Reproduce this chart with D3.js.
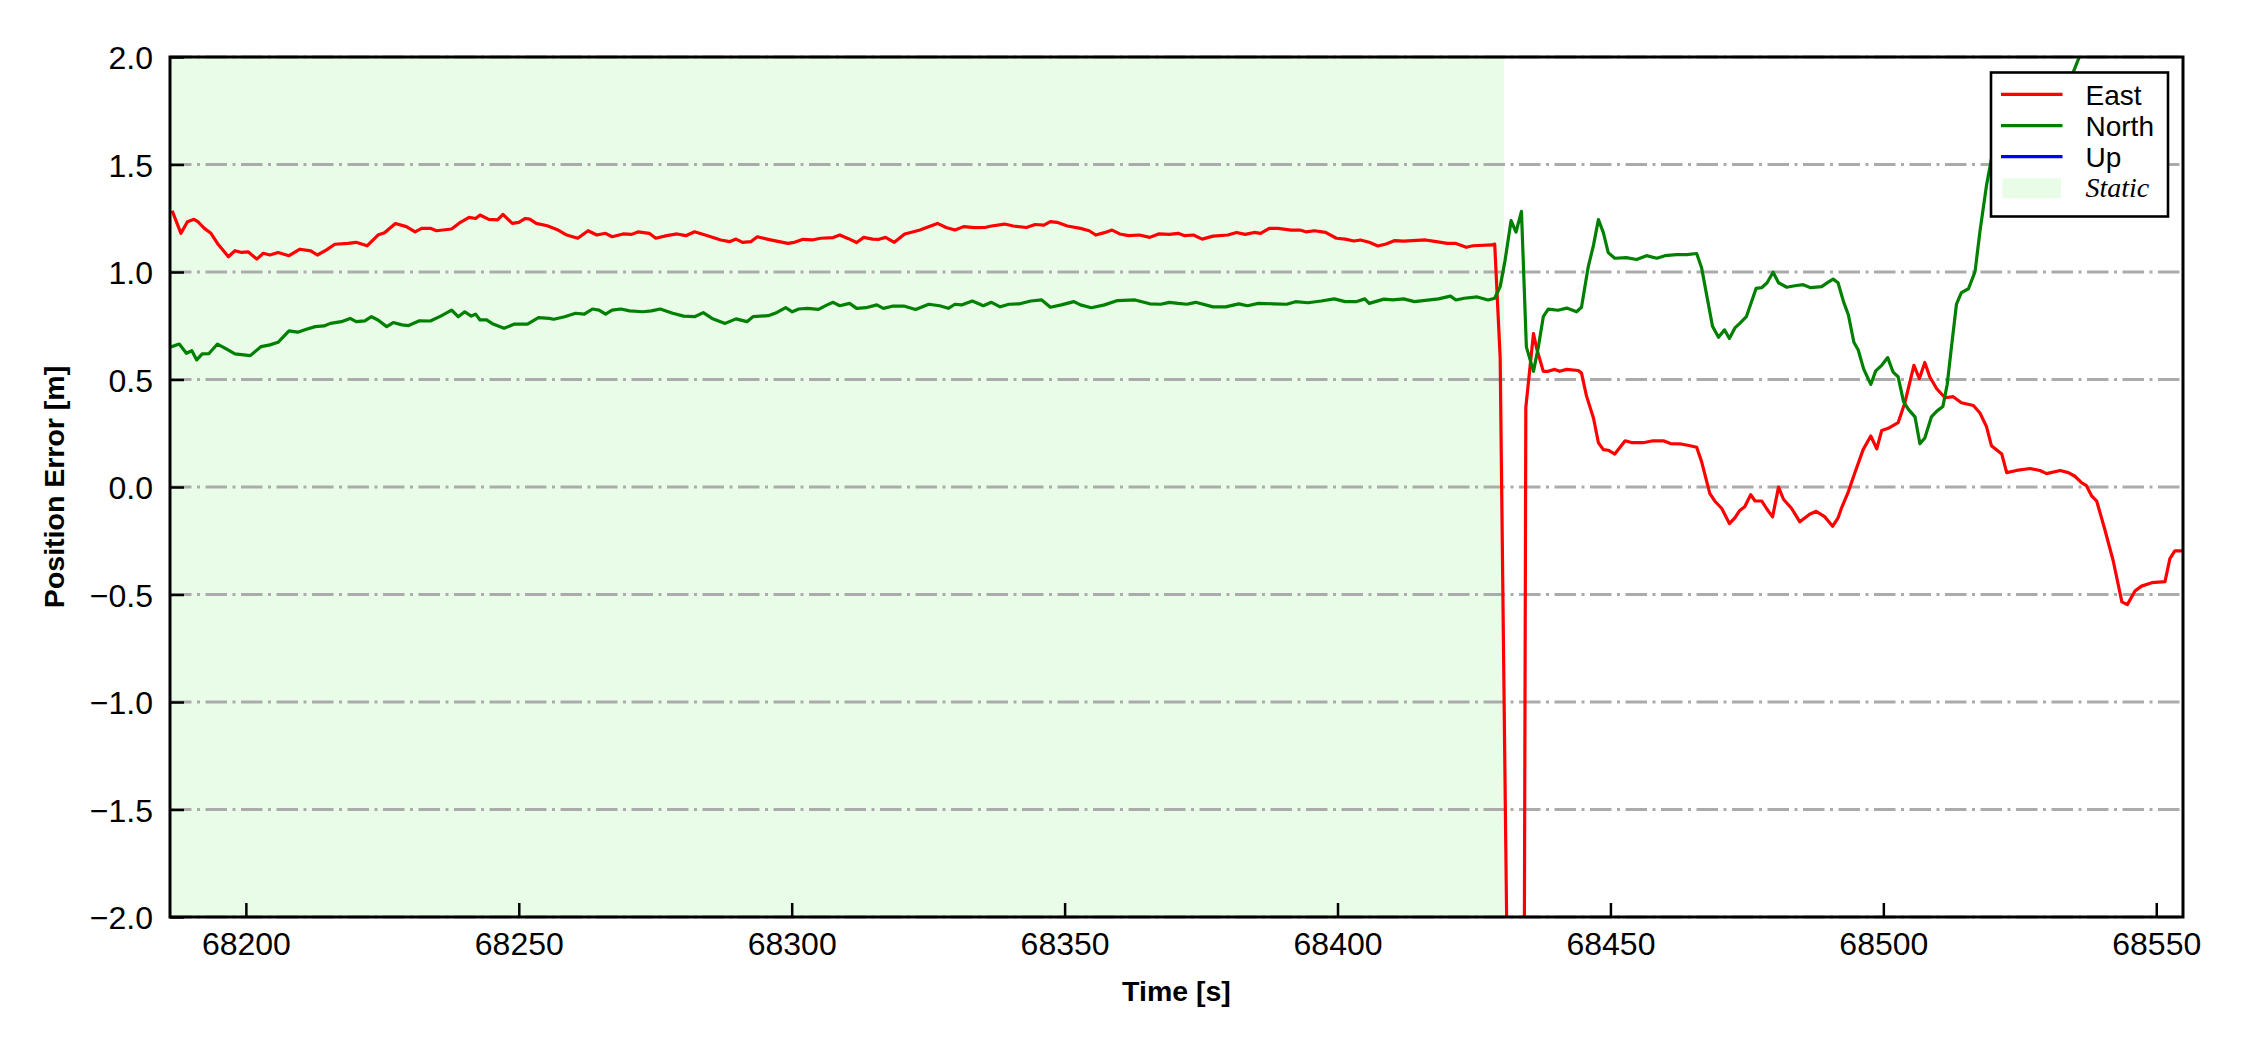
<!DOCTYPE html>
<html>
<head>
<meta charset="utf-8">
<script src="https://cdn.jsdelivr.net/npm/d3@7"></script>
<style>
  html, body { margin: 0; padding: 0; background: #ffffff; }
  svg { display: block; }
</style>
</head>
<body>
<svg id="chart" width="2250" height="1050"></svg>
<script>
// ---------------- data ----------------
const seriesNames = ["East", "North", "Up"];
const seriesColors = ["#ff0000", "#008000", "#0000ff"];
const staticLabel = "Static";
const staticRange = [68186.1, 68430.5];
const xTicks = [68200, 68250, 68300, 68350, 68400, 68450, 68500, 68550];
const yTicks = [-2.0, -1.5, -1.0, -0.5, 0.0, 0.5, 1.0, 1.5, 2.0];
const xDomain = [68186.1, 68554.9];
const yDomain = [-2, 2];

const eastTime = [68186.5,68188.1,68189.3,68190.5,68191.2,68192.4,68193.6,68194.8,68196.8,68198.0,68199.2,68200.4,68202.0,68203.2,68204.4,68205.9,68207.9,68209.9,68211.9,68213.1,68214.7,68216.3,68218.7,68220.2,68222.2,68224.2,68225.4,68227.4,68229.4,68231.0,68232.2,68233.8,68234.9,68237.7,68239.3,68240.9,68242.1,68242.9,68244.5,68246.1,68247.1,68248.8,68250.0,68251.2,68252.0,68253.2,68255.2,68257.2,68258.8,68260.8,68262.7,68264.3,68265.9,68267.1,68269.1,68270.7,68271.9,68273.9,68275.1,68277.1,68279.0,68280.6,68282.2,68284.6,68287.0,68288.6,68289.8,68291.0,68292.5,68293.7,68295.7,68297.7,68299.3,68300.5,68302.1,68303.7,68305.3,68307.6,68308.8,68310.4,68311.9,68313.2,68314.8,68316.0,68317.2,68318.8,68320.7,68322.3,68323.5,68324.7,68326.7,68328.3,68329.9,68331.5,68333.5,68335.4,68336.6,68339.0,68340.6,68343.0,68344.6,68346.2,68347.4,68348.6,68350.5,68352.9,68354.5,68355.7,68357.3,68358.7,68360.1,68361.7,68363.7,68365.6,68367.2,68369.2,68370.8,68372.0,68373.6,68375.2,68377.2,68379.9,68381.5,68383.1,68384.7,68385.9,68387.5,68389.1,68391.5,68393.1,68394.2,68395.8,68397.8,68399.8,68401.4,68403.0,68404.2,68405.8,68407.4,68408.9,68410.5,68412.1,68413.7,68416.1,68418.1,68420.1,68421.7,68423.6,68424.8,68428.4,68428.8,68429.8,68433.6,68434.5,68435.9,68436.5,68437.7,68438.6,68439.8,68440.7,68442.0,68444.1,68444.7,68445.6,68446.9,68447.8,68448.7,68449.6,68450.8,68452.7,68454.0,68456.0,68457.8,68459.7,68461.0,68462.7,68464.6,68465.8,68466.7,68468.2,68469.1,68470.4,68471.8,68472.8,68473.7,68474.6,68475.7,68476.5,68477.7,68478.6,68479.7,68480.8,68481.7,68483.2,68484.7,68486.5,68487.7,68489.3,68490.7,68491.7,68492.3,68493.6,68494.8,68496.3,68497.7,68498.8,68499.7,68500.9,68502.7,68503.9,68505.6,68506.6,68507.6,68508.5,68509.8,68511.3,68512.8,68514.3,68516.5,68517.7,68518.9,68519.8,68521.7,68522.6,68524.4,68526.9,68528.7,68529.9,68532.4,68533.9,68535.1,68536.3,68537.2,68538.2,68539.1,68540.6,68542.1,68543.7,68544.7,68546.1,68547.3,68549.2,68551.6,68552.5,68553.4,68554.9];
const eastValue = [1.285,1.180,1.234,1.245,1.234,1.203,1.180,1.133,1.071,1.099,1.091,1.094,1.060,1.087,1.079,1.091,1.076,1.106,1.098,1.079,1.102,1.129,1.133,1.138,1.122,1.172,1.183,1.226,1.211,1.187,1.203,1.203,1.192,1.200,1.231,1.254,1.249,1.265,1.245,1.242,1.268,1.226,1.231,1.249,1.246,1.226,1.215,1.195,1.172,1.157,1.192,1.172,1.180,1.164,1.177,1.175,1.187,1.180,1.157,1.169,1.177,1.169,1.187,1.169,1.149,1.141,1.153,1.138,1.141,1.164,1.152,1.141,1.133,1.138,1.152,1.149,1.157,1.160,1.172,1.155,1.137,1.161,1.153,1.152,1.161,1.138,1.177,1.187,1.195,1.207,1.226,1.207,1.195,1.211,1.206,1.207,1.214,1.223,1.214,1.207,1.221,1.218,1.234,1.231,1.214,1.203,1.192,1.172,1.183,1.195,1.177,1.169,1.172,1.161,1.177,1.175,1.180,1.169,1.172,1.153,1.167,1.172,1.184,1.175,1.184,1.180,1.203,1.203,1.195,1.195,1.187,1.192,1.184,1.157,1.153,1.144,1.149,1.138,1.121,1.130,1.146,1.144,1.146,1.149,1.141,1.133,1.133,1.115,1.122,1.126,1.130,0.600,-7.800,0.370,0.713,0.643,0.538,0.538,0.547,0.538,0.547,0.542,0.530,0.425,0.320,0.206,0.174,0.171,0.153,0.215,0.206,0.206,0.215,0.215,0.202,0.201,0.192,0.185,0.118,-0.030,-0.065,-0.100,-0.170,-0.144,-0.109,-0.092,-0.036,-0.065,-0.065,-0.100,-0.139,0.000,-0.057,-0.100,-0.162,-0.127,-0.113,-0.139,-0.183,-0.144,-0.100,-0.021,0.067,0.174,0.237,0.178,0.263,0.273,0.299,0.388,0.566,0.504,0.579,0.513,0.456,0.415,0.420,0.392,0.379,0.344,0.281,0.192,0.153,0.067,0.077,0.086,0.077,0.062,0.077,0.067,0.050,0.020,0.006,-0.043,-0.066,-0.200,-0.342,-0.534,-0.547,-0.484,-0.461,-0.445,-0.440,-0.333,-0.297,-0.297];

const northTime = [68186.1,68187.8,68189.1,68190.1,68191.0,68192.0,68193.2,68194.8,68196.4,68198.0,68200.8,68202.8,68204.4,68205.9,68207.9,68209.5,68211.1,68212.7,68214.3,68215.5,68217.5,68219.1,68220.2,68221.8,68223.0,68224.2,68225.8,68227.0,68228.6,68229.8,68231.8,68233.8,68235.7,68237.7,68238.9,68240.1,68241.3,68242.1,68242.9,68244.1,68245.3,68247.3,68249.2,68251.6,68253.6,68255.6,68256.4,68258.4,68260.4,68262.0,68263.5,68264.7,68265.9,68267.1,68268.7,68270.3,68272.7,68274.3,68275.9,68278.2,68280.2,68282.2,68283.8,68285.4,68287.8,68289.8,68291.8,68292.9,68295.7,68297.3,68298.9,68300.1,68301.3,68302.9,68304.9,68306.5,68307.6,68308.8,68310.6,68311.9,68313.6,68315.6,68316.8,68318.4,68320.7,68322.7,68325.1,68327.1,68328.7,68329.9,68331.1,68333.1,68335.1,68336.6,68338.2,68339.8,68341.8,68343.8,68345.8,68347.4,68349.4,68351.7,68352.9,68354.9,68357.3,68359.7,68362.9,68365.6,68367.6,68369.2,68370.8,68372.4,68374.0,68377.2,68379.5,68381.9,68383.5,68385.5,68388.3,68390.7,68392.3,68394.6,68397.0,68399.4,68401.4,68403.4,68405.0,68405.8,68408.5,68410.1,68412.1,68414.1,68416.9,68418.5,68420.7,68421.7,68423.2,68425.6,68427.6,68428.8,68429.8,68430.7,68431.8,68432.7,68433.7,68434.6,68435.9,68436.8,68437.7,68438.6,68440.4,68442.0,68443.8,68444.7,68445.9,68446.9,68447.8,68448.7,68449.6,68450.8,68452.9,68454.8,68456.6,68458.5,68460.0,68462.1,68464.0,68465.8,68466.7,68467.6,68468.7,68469.8,68470.9,68471.8,68472.8,68473.7,68474.9,68476.7,68477.7,68478.7,68479.8,68480.8,68482.3,68483.8,68485.3,68486.7,68488.7,68489.9,68490.8,68491.7,68492.7,68493.6,68494.6,68495.4,68496.4,68497.7,68498.6,68499.7,68500.8,68501.8,68502.7,68503.7,68504.6,68505.8,68506.7,68507.6,68508.8,68509.8,68510.9,68511.7,68512.5,68513.4,68514.3,68515.6,68516.8,68517.7,68518.9,68519.8,68527.0,68534.8,68535.9,68545.0,68554.9];
const northValue = [0.650,0.665,0.622,0.634,0.591,0.619,0.620,0.665,0.642,0.619,0.611,0.653,0.661,0.673,0.726,0.720,0.734,0.746,0.749,0.761,0.769,0.784,0.769,0.773,0.792,0.777,0.746,0.765,0.754,0.751,0.773,0.772,0.795,0.823,0.792,0.815,0.795,0.804,0.777,0.777,0.758,0.738,0.758,0.758,0.788,0.784,0.780,0.792,0.808,0.804,0.828,0.823,0.804,0.823,0.828,0.819,0.815,0.819,0.828,0.808,0.795,0.792,0.811,0.784,0.761,0.782,0.769,0.792,0.797,0.812,0.834,0.815,0.828,0.831,0.826,0.847,0.859,0.843,0.854,0.831,0.834,0.847,0.831,0.841,0.841,0.826,0.850,0.843,0.831,0.850,0.847,0.865,0.843,0.859,0.838,0.850,0.852,0.865,0.870,0.836,0.847,0.862,0.847,0.834,0.847,0.867,0.870,0.852,0.850,0.859,0.854,0.850,0.859,0.838,0.838,0.852,0.843,0.854,0.852,0.850,0.862,0.857,0.865,0.875,0.862,0.862,0.875,0.854,0.874,0.870,0.875,0.862,0.870,0.875,0.888,0.870,0.878,0.884,0.870,0.878,0.932,1.055,1.239,1.186,1.282,0.652,0.538,0.652,0.792,0.827,0.822,0.832,0.815,0.836,1.020,1.125,1.244,1.183,1.090,1.064,1.067,1.058,1.076,1.064,1.076,1.081,1.081,1.086,1.020,0.897,0.748,0.696,0.731,0.691,0.740,0.761,0.792,0.924,0.927,0.950,0.999,0.950,0.929,0.936,0.941,0.927,0.932,0.953,0.967,0.950,0.862,0.800,0.673,0.637,0.548,0.477,0.540,0.566,0.602,0.534,0.513,0.397,0.361,0.326,0.201,0.228,0.326,0.353,0.374,0.477,0.655,0.851,0.904,0.922,1.002,1.189,1.403,1.527,1.720,1.930,2.000,2.400,2.700];

const upTime = [];
const upValue = [];

// ---------------- layout ----------------
const W = 2250, H = 1050;
const L = 170, R = 2183, T = 57, B = 917;
const FONT = "Arial, 'Liberation Sans', Helvetica, sans-serif";

const svg = d3.select("#chart");
const x = d3.scaleLinear().domain(xDomain).range([L, R]);
const y = d3.scaleLinear().domain(yDomain).range([B, T]);

svg.append("defs").append("clipPath").attr("id", "plotClip")
  .append("rect").attr("x", L).attr("y", T).attr("width", R - L).attr("height", B - T);

// static span
svg.append("rect")
  .attr("x", x(staticRange[0])).attr("y", T)
  .attr("width", x(staticRange[1]) - x(staticRange[0])).attr("height", B - T)
  .attr("fill", "#e8fce8");

// grid
svg.append("g").selectAll("line").data(yTicks).join("line")
  .attr("x1", L).attr("x2", R)
  .attr("y1", d => y(d)).attr("y2", d => y(d))
  .attr("stroke", "#ababab").attr("stroke-width", 2.8)
  .attr("stroke-dasharray", "21.5,5.5,3,5.5");

// lines
const seriesData = [
  eastTime.map((t, i) => [t, eastValue[i]]),
  northTime.map((t, i) => [t, northValue[i]]),
  upTime.map((t, i) => [t, upValue[i]])
];
const line = d3.line().x(d => x(d[0])).y(d => y(d[1]));
const gLines = svg.append("g").attr("clip-path", "url(#plotClip)");
seriesData.forEach((s, i) => {
  if (!s.length) return;
  gLines.append("path").datum(s)
    .attr("d", line).attr("fill", "none")
    .attr("stroke", seriesColors[i]).attr("stroke-width", 3.2)
    .attr("stroke-linejoin", "round");
});

// axes
const fmt = d3.format(".1f");
const xAxis = svg.append("g").attr("transform", `translate(0,${B})`)
  .call(d3.axisBottom(x).tickValues(xTicks).tickFormat(d3.format("d")).tickSize(-14).tickPadding(15));
const yAxis = svg.append("g").attr("transform", `translate(${L},0)`)
  .call(d3.axisLeft(y).tickValues(yTicks).tickFormat(fmt).tickSize(-14).tickPadding(17));
[xAxis, yAxis].forEach(g => {
  g.select(".domain").remove();
  g.selectAll(".tick line").attr("stroke", "#000").attr("stroke-width", 2.5);
  g.selectAll(".tick text").attr("fill", "#000")
    .style("font-family", FONT).style("font-size", "32px");
});
yAxis.selectAll(".tick text").attr("dy", "0.36em");

// spines
svg.append("rect").attr("x", L).attr("y", T).attr("width", R - L).attr("height", B - T)
  .attr("fill", "none").attr("stroke", "#000").attr("stroke-width", 3);

// axis labels
svg.append("text").attr("x", (L + R) / 2).attr("y", 1001)
  .attr("text-anchor", "middle").style("font-family", FONT)
  .style("font-size", "28.5px").style("font-weight", "bold").text("Time [s]");
svg.append("text").attr("transform", `translate(64,${(T + B) / 2}) rotate(-90)`)
  .attr("text-anchor", "middle").style("font-family", FONT)
  .style("font-size", "28.5px").style("font-weight", "bold").text("Position Error [m]");

// legend
const lg = svg.append("g");
lg.append("rect").attr("x", 1991).attr("y", 72.5).attr("width", 177).attr("height", 144)
  .attr("fill", "#fff").attr("stroke", "#000").attr("stroke-width", 2.6);
const rowY = [94.3, 125.7, 156.7, 188.3];
seriesNames.forEach((n, i) => {
  lg.append("line").attr("x1", 2001).attr("x2", 2062.5)
    .attr("y1", rowY[i]).attr("y2", rowY[i])
    .attr("stroke", seriesColors[i]).attr("stroke-width", 3.2);
  lg.append("text").attr("x", 2085.5).attr("y", rowY[i] + 10.5)
    .style("font-family", FONT).style("font-size", "28px").text(n);
});
lg.append("rect").attr("x", 2002.5).attr("y", rowY[3] - 10).attr("width", 58.5).attr("height", 20)
  .attr("fill", "#e8fce8");
lg.append("text").attr("x", 2085.5).attr("y", rowY[3] + 9)
  .style("font-family", "'Times New Roman', 'Liberation Serif', serif")
  .style("font-style", "italic").style("font-size", "28px").text(staticLabel);
</script>
</body>
</html>
